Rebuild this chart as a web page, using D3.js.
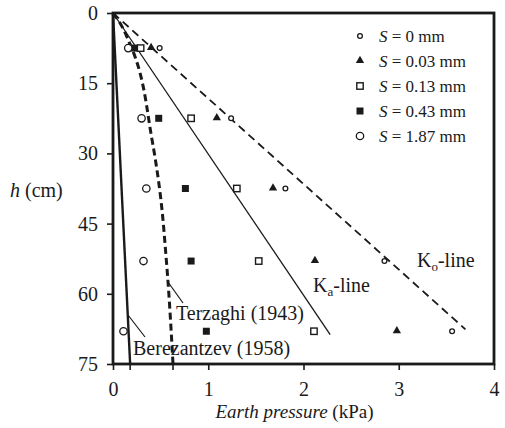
<!DOCTYPE html>
<html>
<head>
<meta charset="utf-8">
<script src="https://cdn.jsdelivr.net/npm/d3@7"></script>
<style>
  body { margin: 0; background: #fff; }
  svg text { font-family: "Times New Roman", "Liberation Serif", Tinos, "DejaVu Serif", serif; fill: #1a1a1a; }
</style>
</head>
<body>
<div id="chart"></div>
<script>
// depth of the measuring points (cm)
const depths = [7.5, 22.5, 37.5, 53, 68];

// earth pressure (kPa) per settlement S
const s0   = [0.49, 1.24, 1.81, 2.85, 3.56];
const s003 = [0.40, 1.09, 1.68, 2.12, 2.98];
const s013 = [0.29, 0.82, 1.30, 1.53, 2.11];
const s043 = [0.22, 0.48, 0.76, 0.82, 0.98];
const s187 = [0.16, 0.30, 0.35, 0.32, 0.11];

const legendLabels = ["0", "0.03", "0.13", "0.43", "1.87"];

// theory lines [pressure, depth]
const koLine = [[0, 0], [3.70, 67.6]];
const kaLine = [[0, 0], [2.28, 68.7]];
const terzaghi = [[0, 0], [0.05, 1.4], [0.19, 7.2], [0.41, 27.1], [0.49, 37.7], [0.56, 52.8], [0.63, 75]];
const berezantzev = [[0, 0], [0.18, 75]];

const xTicks = [0, 1, 2, 3, 4];
const yTicks = [0, 15, 30, 45, 60, 75];

const serif = "'Times New Roman', 'Liberation Serif', Tinos, 'DejaVu Serif', serif";

let margin = {top: 13, right: 11, bottom: 64, left: 113};
let width = 505 - margin.left - margin.right;
let height = 428 - margin.top - margin.bottom;

let svg = d3.select("#chart").append("svg")
    .attr("width", 505)
    .attr("height", 428)
    .append("g")
    .attr("transform", `translate(${margin.left},${margin.top})`);

let x = d3.scaleLinear().domain([0, 4]).range([0, width]);
let y = d3.scaleLinear().domain([0, 75]).range([0, height]);

// axes
let xAxis = d3.axisBottom(x).tickValues(xTicks).tickSize(6).tickPadding(12).tickFormat(d3.format("d"));
let yAxis = d3.axisLeft(y).tickValues(yTicks).tickSize(6).tickPadding(9);

let gx = svg.append("g")
    .attr("class", "axis x-axis")
    .attr("transform", "translate(0," + height + ")")
    .call(xAxis);
let gy = svg.append("g")
    .attr("class", "axis y-axis")
    .call(yAxis);

[gx, gy].forEach(g => {
    g.attr("font-family", null);
    g.select(".domain").remove();
    g.selectAll("line").attr("stroke", "#1a1a1a").attr("stroke-width", 1.6);
    g.selectAll("text").style("font-size", "20px").attr("fill", "#1a1a1a")
        .style("font-family", serif);
});

// frame
svg.append("rect")
    .attr("x", 0).attr("y", 0)
    .attr("width", width).attr("height", height)
    .attr("fill", "none")
    .attr("stroke", "#1a1a1a")
    .attr("stroke-width", 2.8);

// theory lines
let line = d3.line().x(d => x(d[0])).y(d => y(d[1]));
let curve = d3.line().x(d => x(d[0])).y(d => y(d[1])).curve(d3.curveMonotoneY);

svg.append("path").datum(koLine).attr("d", line)
    .attr("fill", "none").attr("stroke", "#1a1a1a").attr("stroke-width", 1.8)
    .attr("stroke-dasharray", "8,5");
svg.append("path").datum(kaLine).attr("d", line)
    .attr("fill", "none").attr("stroke", "#1a1a1a").attr("stroke-width", 1.3);
svg.append("path").datum(terzaghi).attr("d", curve)
    .attr("fill", "none").attr("stroke", "#1a1a1a").attr("stroke-width", 3)
    .attr("stroke-dasharray", "7,4");
svg.append("path").datum(berezantzev).attr("d", line)
    .attr("fill", "none").attr("stroke", "#1a1a1a").attr("stroke-width", 2.4);

// small marks where the two curves meet the bottom axis
[terzaghi, berezantzev].forEach(arr => {
    let last = arr[arr.length - 1];
    svg.append("line")
        .attr("x1", x(last[0])).attr("x2", x(last[0]))
        .attr("y1", y(75) - 3).attr("y2", y(75) + 6)
        .attr("stroke", "#1a1a1a").attr("stroke-width", 1.6);
});

// markers
function drawMarker(g, kind, cx, cy) {
    if (kind === 0) {
        g.append("circle").attr("cx", cx).attr("cy", cy).attr("r", 2.4)
            .attr("fill", "#fff").attr("stroke", "#1a1a1a").attr("stroke-width", 1.3);
    } else if (kind === 1) {
        g.append("path").attr("d", d3.symbol().type(d3.symbolTriangle).size(30)())
            .attr("transform", `translate(${cx},${cy - 0.5})`)
            .attr("fill", "#1a1a1a");
    } else if (kind === 2) {
        g.append("rect").attr("x", cx - 3.2).attr("y", cy - 3.2).attr("width", 6.4).attr("height", 6.4)
            .attr("fill", "#fff").attr("stroke", "#1a1a1a").attr("stroke-width", 1.4);
    } else if (kind === 3) {
        g.append("rect").attr("x", cx - 3.5).attr("y", cy - 3.5).attr("width", 7).attr("height", 7)
            .attr("fill", "#1a1a1a");
    } else {
        g.append("circle").attr("cx", cx).attr("cy", cy).attr("r", 3.7)
            .attr("fill", "#fff").attr("stroke", "#1a1a1a").attr("stroke-width", 1.3);
    }
}

let allSeries = [s0, s003, s013, s043, s187];
let pts = svg.append("g").attr("class", "points");
allSeries.forEach((vals, k) => {
    vals.forEach((v, i) => drawMarker(pts, k, x(v), y(depths[i])));
});

// legend
let legend = svg.append("g").attr("class", "legend");
legendLabels.forEach((lab, k) => {
    let ly = 23 + k * 25;
    drawMarker(legend, k, 247, ly);
    let t = legend.append("text")
        .attr("x", 266).attr("y", ly + 5.5)
        .style("font-size", "17px");
    t.append("tspan").style("font-style", "italic").text("S");
    t.append("tspan").text(" = " + lab + " mm");
});

// annotations
function leader(x1, y1, x2, y2) {
    svg.append("line")
        .attr("x1", x1 - margin.left).attr("y1", y1 - margin.top)
        .attr("x2", x2 - margin.left).attr("y2", y2 - margin.top)
        .attr("stroke", "#1a1a1a").attr("stroke-width", 1.2);
}
leader(168, 282, 183, 303);
leader(128, 315, 145, 337);

svg.append("text")
    .attr("x", 176 - margin.left).attr("y", 320 - margin.top)
    .style("font-size", "20px")
    .text("Terzaghi (1943)");
svg.append("text")
    .attr("x", 133 - margin.left).attr("y", 355 - margin.top)
    .style("font-size", "20px")
    .text("Berezantzev (1958)");

let ka = svg.append("text")
    .attr("x", 313 - margin.left).attr("y", 292 - margin.top)
    .style("font-size", "20px");
ka.append("tspan").text("K");
ka.append("tspan").attr("dy", 4).style("font-size", "13px").text("a");
ka.append("tspan").attr("dy", -4).text("-line");

let ko = svg.append("text")
    .attr("x", 417 - margin.left).attr("y", 267 - margin.top)
    .style("font-size", "20px");
ko.append("tspan").text("K");
ko.append("tspan").attr("dy", 4).style("font-size", "13px").text("o");
ko.append("tspan").attr("dy", -4).text("-line");

// axis titles
let xt = svg.append("text")
    .attr("x", width / 2 - 9).attr("y", height + 54)
    .attr("text-anchor", "middle")
    .style("font-size", "19px");
xt.append("tspan").style("font-style", "italic").text("Earth pressure");
xt.append("tspan").text(" (kPa)");

let yt = svg.append("text")
    .attr("x", 10 - margin.left).attr("y", 197 - margin.top)
    .style("font-size", "20px");
yt.append("tspan").style("font-style", "italic").text("h");
yt.append("tspan").text(" (cm)");
</script>
</body>
</html>
